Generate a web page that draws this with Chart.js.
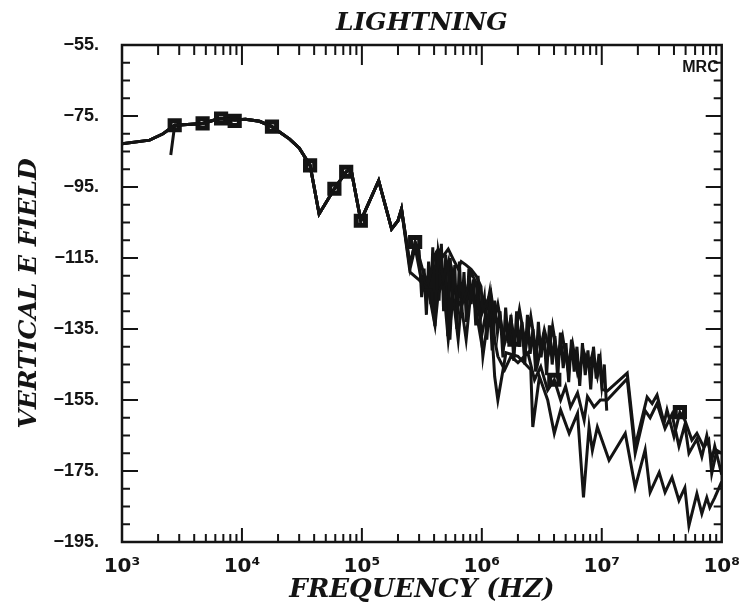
<!DOCTYPE html>
<html>
<head>
<meta charset="utf-8">
<script src="https://cdn.jsdelivr.net/npm/chart.js@4.4.1/dist/chart.umd.min.js"></script>
<style>
  html, body { margin: 0; padding: 0; background: #fff; }
</style>
</head>
<body>
<canvas id="grafico" width="745" height="610"></canvas>
<script>
// Trecho comum a todas as curvas (baixa frequência)
const freqBase = [1000, 1700, 2200, 2750, 3500, 4700, 5800, 6700, 8700, 10700, 14000, 17800, 25000, 30000, 37000, 44000, 59000, 74000, 81000, 98000, 138000, 177000, 200000, 214000];
const campoBase = [-82.8, -81.8, -80, -77.6, -77.4, -77.1, -76.2, -75.7, -76.1, -75.9, -76.5, -78, -81.5, -84, -88.9, -102.6, -95.5, -90.7, -89.8, -104.5, -93.2, -106.8, -104.5, -101.2];

// Curva de cima
const freqA = [252e3, 278e3, 325e3, 358e3, 407e3, 433e3, 477e3, 525e3, 577e3, 635e3, 673e3, 740e3, 814e3, 896e3, 984e3, 1.02e6, 1.19e6, 1.28e6, 1.36e6, 1.55e6, 1.75e6, 1.87e6, 2.06e6, 2.33e6, 2.56e6, 2.93e6, 3.32e6, 3.66e6, 3.89e6, 4.28e6, 4.71e6, 5.18e6, 5.70e6, 6.28e6, 7.13e6, 7.84e6, 8.35e6, 9.19e6, 9.73e6, 10.1e6, 11.1e6, 16.3e6, 19.0e6, 23.9e6, 26.3e6, 28.9e6, 33.1e6, 35.0e6, 40.0e6, 44.8e6, 49.3e6, 56.4e6, 62.1e6, 70.9e6, 78.0e6, 82.6e6, 91.0e6, 1e8];
const campoA = [-117, -110.5, -119, -122, -114, -112.5, -114.4, -112.5, -115.3, -118, -116, -117, -118.2, -120, -123, -130, -124.7, -132, -128, -139, -132.3, -138, -129.5, -140, -131.4, -144.5, -135.2, -140.8, -134.2, -142.7, -137, -145.6, -139, -147.4, -141.7, -145.6, -142.2, -148.4, -143.7, -152, -152.5, -147.4, -168, -154.2, -156, -153.6, -161.5, -157.8, -165.3, -158.4, -160.7, -166.3, -164.4, -168.3, -166.3, -175.7, -169.2, -170];

// Curva do meio
const freqB = [252e3, 278e3, 325e3, 379e3, 407e3, 433e3, 477e3, 525e3, 542e3, 577e3, 635e3, 673e3, 740e3, 814e3, 896e3, 984e3, 1.02e6, 1.19e6, 1.28e6, 1.36e6, 1.55e6, 1.75e6, 2.0e6, 2.42e6, 2.75e6, 3.10e6, 3.54e6, 4.02e6, 4.54e6, 4.99e6, 5.49e6, 6.28e6, 7.13e6, 7.60e6, 8.63e6, 9.73e6, 11.1e6, 16.3e6, 19.0e6, 23.0e6, 25.3e6, 28.9e6, 33.7e6, 38.5e6, 44.0e6, 49.3e6, 53.3e6, 62.1e6, 68.3e6, 75.1e6, 82.6e6, 87.5e6, 1e8];
const campoB = [-118, -112, -124, -123.9, -134.2, -113, -121, -116, -138, -120, -127, -128.6, -125, -119, -122, -135, -142.7, -126, -138, -142.7, -146.5, -142.7, -144.5, -141.7, -149.3, -145.6, -152.2, -149.3, -155, -151.2, -157, -153, -160.7, -154, -157, -155, -155, -149, -170, -158, -160, -156, -163, -159, -168, -162, -170, -166, -171, -165, -172, -168, -176];

// Curva de baixo (começa no primeiro marcador)
const freqC = [252e3, 296e3, 358e3, 407e3, 433e3, 477e3, 525e3, 577e3, 635e3, 673e3, 740e3, 814e3, 896e3, 984e3, 1.16e6, 1.28e6, 1.36e6, 1.59e6, 2.0e6, 2.56e6, 2.66e6, 3.02e6, 3.54e6, 4.02e6, 4.54e6, 5.35e6, 6.28e6, 7.04e6, 7.84e6, 8.35e6, 9.19e6, 11.5e6, 15.7e6, 19.0e6, 23.0e6, 25.3e6, 30.1e6, 33.7e6, 38.5e6, 44.0e6, 49.3e6, 53.3e6, 62.1e6, 68.3e6, 75.1e6, 79.5e6, 87.5e6, 1e8];
const campoC = [-119, -121, -123.9, -134, -125, -122, -138, -126, -138, -128, -138, -124, -130, -138, -124.7, -148.4, -155, -141.7, -142.7, -146.5, -162.6, -148.4, -155, -164.4, -157.8, -164.4, -158.8, -182.4, -162.6, -169.2, -162.6, -172, -164.4, -179.6, -169, -181, -175.4, -181, -176.8, -183.3, -179.7, -190.4, -181.4, -187, -182.5, -185.3, -182.5, -178];
const inicioC = [2550, -86];

// Curva densa que termina perto de 10 MHz
const freqD = [300e3, 315e3, 330e3, 345e3, 360e3, 375e3, 390e3, 405e3, 420e3, 440e3, 460e3, 480e3, 500e3, 520e3, 545e3, 570e3, 595e3, 620e3, 650e3, 680e3, 710e3, 745e3, 780e3, 815e3, 850e3, 890e3, 930e3, 975e3,
    1.05e6, 1.1e6, 1.16e6, 1.22e6, 1.28e6, 1.35e6, 1.42e6, 1.5e6, 1.58e6, 1.66e6, 1.75e6, 1.85e6, 1.95e6, 2.05e6, 2.16e6, 2.28e6, 2.4e6, 2.53e6, 2.67e6, 2.81e6, 2.96e6, 3.12e6, 3.29e6, 3.47e6, 3.66e6, 3.86e6, 4.07e6, 4.29e6, 4.52e6, 4.77e6, 5.03e6, 5.3e6, 5.59e6, 5.89e6, 6.21e6, 6.55e6, 6.9e6, 7.28e6, 7.67e6, 8.09e6, 8.53e6, 8.99e6, 9.48e6, 10.0e6, 10.5e6, 11.0e6];
const campoD = [-113, -126, -118, -131, -116, -128, -112, -133, -113, -127, -111, -130, -114, -137, -115, -126, -117, -135, -116, -130, -119, -133, -118, -128, -121, -134, -120, -132,
    -126, -138, -128, -141, -127, -136, -130, -143, -129, -139, -131, -144, -130, -140, -133, -145, -131, -142, -135, -147, -133, -143, -136, -148, -134, -145, -137, -149, -136, -146, -139, -150, -138, -147, -140, -151, -139, -148, -141, -152, -140, -149, -142, -151, -145, -158];

// Marcadores quadrados
const freqMarcas = [2750, 4700, 6700, 8700, 17800, 37000, 59000, 74000, 98000, 278000, 1.87e6, 4.02e6, 44.8e6];
const campoMarcas = [-77.6, -77.1, -75.7, -76.4, -78, -88.9, -95.5, -90.7, -104.5, -110.5, -138, -149.3, -158.4];

// Eixos
const xTicks = [1e3, 1e4, 1e5, 1e6, 1e7, 1e8];
const xLabels = ['10³', '10⁴', '10⁵', '10⁶', '10⁷', '10⁸'];
const yTicks = [-195, -175, -155, -135, -115, -95, -75, -55];
const yLabels = ['−195.', '−175.', '−155.', '−135.', '−115.', '−95.', '−75.', '−55.'];

function pontos(fs, vs) {
    return fs.map((f, i) => ({ x: f, y: vs[i] }));
}

const base = pontos(freqBase, campoBase);
const curvaA = base.concat(pontos(freqA, campoA));
const curvaB = base.concat(pontos(freqB, campoB));
const curvaC = [{ x: inicioC[0], y: inicioC[1] }].concat(base.slice(3), pontos(freqC, campoC));
const curvaD = base.concat(pontos(freqA.slice(0, 2), campoA.slice(0, 2)), pontos(freqD, campoD));

const tinta = '#141414';
const serif = "'DejaVu Serif', 'Liberation Serif', serif";
const sans = "'Liberation Sans', 'DejaVu Sans', sans-serif";

// Moldura, marcas internas e logotipo
const moldura = {
    id: 'moldura',
    afterDatasetsDraw(chart) {
        const { ctx, chartArea: a, scales } = chart;
        const x = scales.x, y = scales.y;
        ctx.save();
        ctx.strokeStyle = tinta;
        ctx.lineWidth = 2.5;
        ctx.strokeRect(a.left, a.top, a.right - a.left, a.bottom - a.top);
        ctx.lineWidth = 2;
        ctx.beginPath();
        for (let v = -195; v <= -55; v += 5) {
            const py = y.getPixelForValue(v);
            const len = (v + 195) % 20 === 0 ? 16 : 8;
            ctx.moveTo(a.left, py); ctx.lineTo(a.left + len, py);
            ctx.moveTo(a.right, py); ctx.lineTo(a.right - len, py);
        }
        for (let d = 3; d <= 7; d++) {
            for (let k = 1; k <= 9; k++) {
                const px = x.getPixelForValue(k * Math.pow(10, d));
                const maior = k === 1;
                ctx.moveTo(px, a.top); ctx.lineTo(px, a.top + (maior ? 20 : 10));
                ctx.moveTo(px, a.bottom); ctx.lineTo(px, a.bottom - (maior ? 14 : 8));
            }
        }
        ctx.stroke();
        ctx.fillStyle = tinta;
        ctx.font = 'bold 16px ' + sans;
        ctx.textAlign = 'right';
        ctx.textBaseline = 'middle';
        ctx.fillText('MRC', a.right - 3, a.top + 23);
        ctx.restore();
    }
};

const linha = (dados) => ({
    data: dados,
    borderColor: tinta,
    borderWidth: 3,
    pointRadius: 0,
    tension: 0,
    fill: false
});

new Chart(document.getElementById('grafico'), {
    type: 'line',
    data: {
        datasets: [
            linha(curvaA),
            linha(curvaB),
            linha(curvaC),
            linha(curvaD),
            {
                data: pontos(freqMarcas, campoMarcas),
                showLine: false,
                pointStyle: 'rect',
                pointRadius: 6.5,
                backgroundColor: '#fff',
                borderColor: tinta,
                borderWidth: 5
            }
        ]
    },
    options: {
        responsive: false,
        animation: false,
        devicePixelRatio: 1,
        layout: { padding: { right: 20, left: 0, top: 0, bottom: 0 } },
        plugins: { legend: { display: false }, tooltip: { enabled: false } },
        scales: {
            x: {
                type: 'logarithmic',
                position: 'bottom',
                min: 1e3,
                max: 1e8,
                afterBuildTicks: (s) => { s.ticks = xTicks.map(v => ({ value: v })); },
                afterFit: (s) => { s.height = 68; },
                grid: { display: false },
                border: { display: false },
                ticks: {
                    autoSkip: false,
                    maxRotation: 0,
                    padding: 5,
                    color: tinta,
                    font: { family: "'DejaVu Sans', sans-serif", size: 20, weight: 'bold' },
                    callback: (v) => xLabels[xTicks.indexOf(v)]
                },
                title: {
                    display: true,
                    text: 'FREQUENCY (HZ)',
                    color: tinta,
                    padding: { top: 0, bottom: 4 },
                    font: { family: serif, size: 26, weight: 'bold', style: 'italic' }
                }
            },
            x2: {
                type: 'logarithmic',
                position: 'top',
                min: 1e3,
                max: 1e8,
                afterFit: (s) => { s.height = 45; },
                grid: { display: false },
                border: { display: false },
                ticks: { display: false },
                title: {
                    display: true,
                    text: 'LIGHTNING',
                    color: tinta,
                    padding: { top: 8, bottom: 0 },
                    font: { family: serif, size: 25, weight: 'bold', style: 'italic' }
                }
            },
            y: {
                min: -195,
                max: -55,
                afterBuildTicks: (s) => { s.ticks = yTicks.map(v => ({ value: v })); },
                afterFit: (s) => { s.width = 122; },
                grid: { display: false },
                border: { display: false },
                ticks: {
                    padding: 15,
                    color: tinta,
                    font: { family: sans, size: 18, weight: 'bold' },
                    callback: (v) => yLabels[yTicks.indexOf(v)]
                },
                title: {
                    display: true,
                    text: 'VERTICAL E FIELD',
                    color: tinta,
                    padding: { top: 14, bottom: 0 },
                    font: { family: serif, size: 25, weight: 'bold', style: 'italic' }
                }
            }
        }
    },
    plugins: [moldura]
});
</script>
</body>
</html>
